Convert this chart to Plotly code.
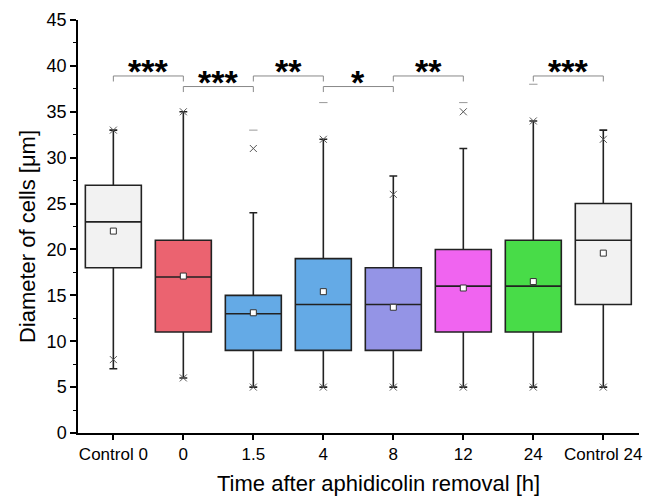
import plotly.graph_objects as go

categories = ["Control 0", "0", "1.5", "4", "8", "12", "24", "Control 24"]
q1 = [18, 11, 9, 9, 9, 11, 11, 14]
median = [23, 17, 13, 14, 14, 16, 16, 21]
q3 = [27, 21, 15, 19, 18, 20, 21, 25]
lower_whisker = [7, 6, 5, 5, 5, 5, 5, 5]
upper_whisker = [33, 35, 24, 32, 28, 31, 34, 33]
means = [22.0, 17.1, 13.1, 15.4, 13.7, 15.8, 16.5, 19.6]
p99 = [33, 35, 31, 32, 26, 35, 34, 32]
p1 = [8, 6, 5, 5, 5, 5, 5, 5]
extreme_cat = [2, 3, 5, 6]
extreme_val = [33, 36, 36, 38]
colors = ["#f2f2f2", "#eb6370", "#64aae6", "#64aae6", "#9494e6", "#f064f0", "#48dc48", "#f2f2f2"]

sig_left = [0, 1, 2, 3, 4, 6]
sig_right = [1, 2, 3, 4, 5, 7]
sig_label = ["***", "***", "**", "*", "**", "***"]
sig_level = [38.9, 37.75, 38.9, 37.75, 38.9, 38.9]

FONT = "Arial, Liberation Sans, sans-serif"
fig = go.Figure()

for i, c in enumerate(categories):
    fig.add_trace(go.Box(
        x=[i], q1=[q1[i]], median=[median[i]], q3=[q3[i]],
        lowerfence=[lower_whisker[i]], upperfence=[upper_whisker[i]],
        fillcolor=colors[i], line=dict(color="#222222", width=1.6),
        width=0.8, whiskerwidth=0.14, boxpoints=False, showlegend=False,
        hoverinfo="skip"))

xs = list(range(len(categories)))
fig.add_trace(go.Scatter(
    x=xs + xs, y=p99 + p1, mode="markers", showlegend=False,
    marker=dict(symbol="x-thin", size=7, line=dict(color="#555555", width=1))))
fig.add_trace(go.Scatter(
    x=extreme_cat, y=extreme_val, mode="markers", showlegend=False,
    marker=dict(symbol="line-ew", size=6, line=dict(color="#999999", width=1))))
fig.add_trace(go.Scatter(
    x=xs, y=means, mode="markers", showlegend=False,
    marker=dict(symbol="square", size=6, color="white", line=dict(color="#333333", width=1))))

leg = 0.6
for a, b, lab, lev in zip(sig_left, sig_right, sig_label, sig_level):
    fig.add_trace(go.Scatter(
        x=[a, a, b, b], y=[lev - leg, lev, lev, lev - leg], mode="lines",
        line=dict(color="#888888", width=1), showlegend=False, hoverinfo="skip"))
    fig.add_annotation(x=(a + b) / 2, y=lev + 0.5, text="<b>" + lab + "</b>", showarrow=False,
                       xref="x", yref="y", yanchor="middle",
                       font=dict(family=FONT, size=34, color="black"))

fig.add_annotation(x=0.5365, y=-0.122, xref="paper", yref="paper",
                   text="Time after aphidicolin removal [h]", showarrow=False,
                   yanchor="middle", font=dict(family=FONT, size=22, color="black"))
fig.add_annotation(x=-0.091, y=0.4766, xref="paper", yref="paper",
                   text="Diameter of cells [\u03bcm]", showarrow=False, textangle=-90,
                   xanchor="center", yanchor="middle",
                   font=dict(family=FONT, size=22, color="black"))

fig.update_layout(
    width=651, height=496,
    margin=dict(l=78, r=12, t=20, b=63, autoexpand=False),
    plot_bgcolor="white", paper_bgcolor="white",
    font=dict(family=FONT, size=18, color="black"),
    xaxis=dict(range=[-0.505, 7.51], tickmode="array", tickvals=xs, ticktext=categories,
               tickfont=dict(size=17),
               showgrid=False, zeroline=False, showline=True, linecolor="black", linewidth=1.5,
               ticks="outside", ticklen=5, tickwidth=1.5, tickcolor="black", automargin=False),
    yaxis=dict(range=[0, 45], tickmode="linear", tick0=0, dtick=5,
               showgrid=False, zeroline=False, showline=True, linecolor="black", linewidth=1.5,
               ticks="outside", ticklen=6, tickwidth=1.5, tickcolor="black", automargin=False,
               minor=dict(dtick=2.5, ticks="outside", ticklen=3, tickwidth=1, tickcolor="black")),
)

fig.write_html("out.html", config={"displayModeBar": False},
               post_script="document.body.style.margin='0';document.body.style.overflow='hidden';")
